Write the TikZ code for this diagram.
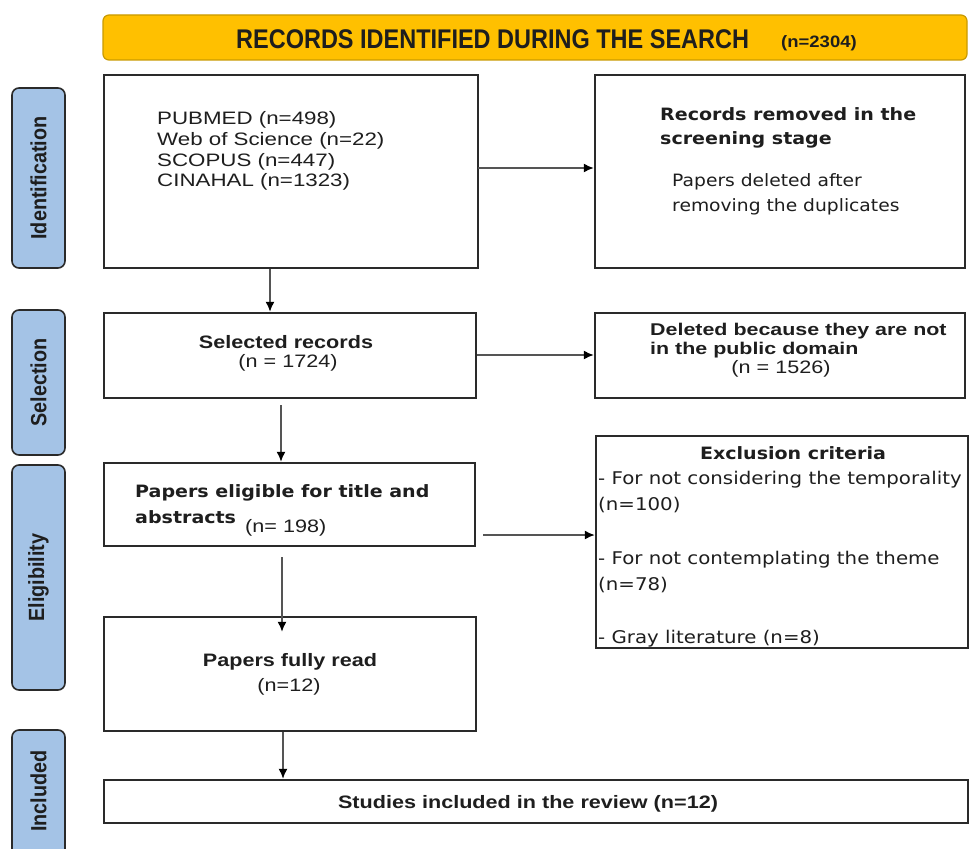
\documentclass[tikz,border=0pt]{standalone}
\usepackage{fontspec}
\setmainfont{Liberation Sans}
\newfontfamily\widef[FakeStretch=1.24]{Liberation Sans}
\newfontfamily\narrowf[FakeStretch=1.2]{Liberation Sans}
\newfontfamily\narrowg[FakeStretch=1.26]{Liberation Sans}
\newfontfamily\bannerf[FakeStretch=0.87]{Liberation Sans}
\newfontfamily\bannersmall[FakeStretch=1.12]{Liberation Sans}
\newfontfamily\stagef[FakeStretch=0.9]{Liberation Sans}
\newfontfamily\tahf[FakeStretch=1.12]{DejaVu Sans}
\newfontfamily\tahreg[FakeStretch=1.13]{DejaVu Sans}
\newfontfamily\tahregb[FakeStretch=1.1]{DejaVu Sans}
\usetikzlibrary{arrows.meta}
\definecolor{gold}{HTML}{FFC000}
\definecolor{goldline}{HTML}{C99A00}
\definecolor{stageblue}{HTML}{A4C3E6}
\definecolor{edge}{HTML}{2A2A2A}
\definecolor{arrowgray}{HTML}{555555}
\definecolor{ink}{HTML}{1E1E1E}
\tikzset{
  box/.style={draw=edge, line width=2.4pt, fill=white, inner sep=0pt},
  stage/.style={draw=edge, line width=1.6pt, fill=stageblue, rounded corners=7pt, inner sep=0pt, minimum width=53pt},
  stagetxt/.style={rotate=90, font=\stagef\bfseries\fontsize{22}{22}\selectfont, text=ink, inner sep=0pt},
  arr/.style={draw=arrowgray, line width=1.6pt, -{Latex[length=10pt,width=9pt,black]}},
  txt/.style={inner sep=0pt, text=ink},
  srcline/.style={txt, anchor=base west, font=\widef\fontsize{18}{18}\selectfont},
  nb/.style={txt, font=\narrowf\bfseries\fontsize{18}{18}\selectfont},
  nr/.style={txt, font=\narrowf\fontsize{18}{18}\selectfont},
  nbs/.style={txt, font=\narrowg\bfseries\fontsize{17}{17}\selectfont},
  tb/.style={txt, font=\tahf\bfseries\fontsize{17}{17}\selectfont},
  tr/.style={txt, font=\tahreg\fontsize{17.5}{17.5}\selectfont},
  trb/.style={txt, font=\tahregb\fontsize{17}{17}\selectfont},
}
\begin{document}
\begin{tikzpicture}[x=1pt,y=-1pt]
\useasboundingbox (0,0) rectangle (973,848);
% banner
\node[draw=goldline, line width=1.2pt, fill=gold, rounded corners=6pt, minimum width=864pt, minimum height=45pt] (banner) at (535,37.5) {};
\node[txt, anchor=base west, font=\bannerf\bfseries\fontsize{27}{27}\selectfont] (bannertxt) at (236,49) {RECORDS IDENTIFIED DURING THE SEARCH};
\node[txt, anchor=base west, font=\bannersmall\bfseries\fontsize{16.5}{16.5}\selectfont] (bannern) at (781,47.5) {(n=2304)};
% stage labels
\node[stage, minimum height=180pt] (sid) at (38.5,178) {};
\node[stagetxt] (sidt) at (sid.center) {Identification};
\node[stage, minimum height=145pt] (ssel) at (38.5,382.5) {};
\node[stagetxt] (sselt) at (ssel.center) {Selection};
\node[stage, minimum height=225pt] (selig) at (38.5,577.5) {};
\node[stagetxt] (seligt) at (selig.center) {Eligibility};
\node[stage, minimum height=130pt] (sinc) at (38.5,795) {};
\node[stagetxt] (sinct) at (38.5,791) {Included};
% boxes
\node[box, minimum width=374pt, minimum height=193pt] (b1) at (291,171.5) {};
\node[box, minimum width=370pt, minimum height=193pt] (b2) at (780,171.5) {};
\node[box, minimum width=372pt, minimum height=85pt] (b3) at (290,355.5) {};
\node[box, minimum width=370pt, minimum height=85pt] (b4) at (780,355.5) {};
\node[box, minimum width=371pt, minimum height=83pt] (b5) at (289.5,504.5) {};
\node[box, minimum width=372pt, minimum height=212pt] (b6) at (782,542) {};
\node[box, minimum width=372pt, minimum height=114pt] (b7) at (290,674) {};
\node[box, minimum width=864pt, minimum height=43pt] (b8) at (536,801.5) {};
% box 1 text
\node[srcline] (s1) at (157,124.5) {PUBMED (n=498)};
\node[srcline] (s2) at (157,145.5) {Web of Science (n=22)};
\node[srcline] (s3) at (157,166) {SCOPUS (n=447)};
\node[srcline] (s4) at (157,186.5) {CINAHAL (n=1323)};
% box 2 text
\node[tb, anchor=base west] (b2t1) at (660,121) {Records removed in the};
\node[tb, anchor=base west] (b2t2) at (660,144) {screening stage};
\node[trb, anchor=base west] (b2u1) at (672,186) {Papers deleted after};
\node[trb, anchor=base west] (b2u2) at (672,211) {removing the duplicates};
% box 3
\node[nb, anchor=base] (b3t) at (286,348) {Selected records};
\node[nr, anchor=base] (b3u) at (288,367) {(n = 1724)};
% box 4
\node[nbs, anchor=base west] (b4t1) at (650,335) {Deleted because they are not};
\node[nbs, anchor=base west] (b4t2) at (650,354) {in the public domain};
\node[nr, anchor=base] (b4u) at (781,373) {(n = 1526)};
% box 5
\node[tb, anchor=base west] (b5t1) at (135,497) {Papers eligible for title and};
\node[tb, anchor=base west] (b5t2) at (135,523) {abstracts};
\node[nr, anchor=base west] (b5u) at (245,532) {(n= 198)};
% box 6
\node[tb, anchor=base] (b6t) at (793,459) {Exclusion criteria};
\node[tr, anchor=base west] (b6a1) at (598,484) {- For not considering the temporality};
\node[tr, anchor=base west] (b6a2) at (598,510) {(n=100)};
\node[tr, anchor=base west] (b6b1) at (598,564) {- For not contemplating the theme};
\node[tr, anchor=base west] (b6b2) at (598,590) {(n=78)};
\node[tr, anchor=base west] (b6c1) at (598,643) {- Gray literature (n=8)};
% box 7
\node[nb, anchor=base] (b7t) at (290,666) {Papers fully read};
\node[nr, anchor=base] (b7u) at (289,691) {(n=12)};
% box 8
\node[nb, anchor=base] (b8t) at (528,808) {Studies included in the review (n=12)};
% arrows
\coordinate (a1s) at (478,168);
\draw[arr] (a1s) -- (b2.west |- a1s);
\draw[arr] (b1.south -| 270,0) -- (b3.north -| 270,0);
\draw[arr] (b3.east |- 0,355) -- (b4.west |- 0,355);
\coordinate (a2s) at (281,405);
\draw[arr] (a2s) -- (a2s |- b5.north);
\draw[arr] (483,535) coordinate (a3s) -- (b6.west |- a3s);
\coordinate (a4s) at (282,557);
\draw[arr] (a4s) -- ([yshift=-16pt]a4s |- b7.north);
\draw[arr] (b7.south -| 283,0) -- (b8.north -| 283,0);
\end{tikzpicture}
\end{document}
